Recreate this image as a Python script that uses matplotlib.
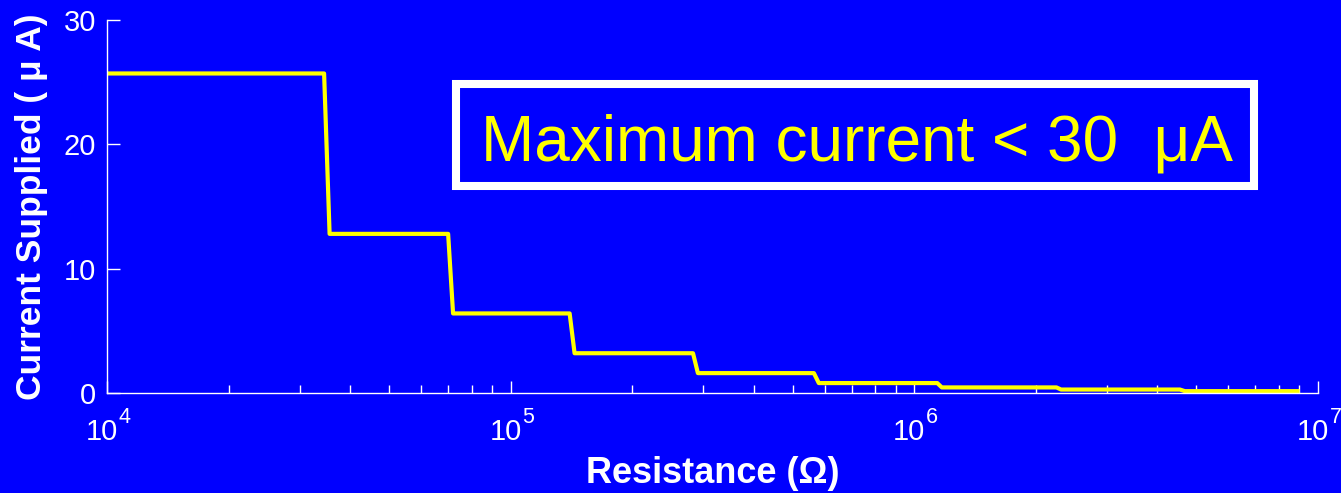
import numpy as np
import matplotlib.pyplot as plt
from matplotlib.patches import Rectangle
from matplotlib.ticker import FixedLocator, LogLocator, NullFormatter

plt.rcParams['font.family'] = ['Liberation Sans', 'DejaVu Sans']

# step curve: resistance (ohm) and current (uA)
resistance = [1.0e4, 34.5e3, 35.6e3, 70.0e3, 72.0e3, 140e3, 144e3, 283e3, 291e3,
              564e3, 580e3, 1.14e6, 1.17e6, 2.25e6, 2.31e6, 4.55e6, 4.68e6, 8.9e6]
current = [25.7, 25.7, 12.8, 12.8, 6.4, 6.4, 3.2, 3.2, 1.6,
           1.6, 0.8, 0.8, 0.45, 0.45, 0.28, 0.28, 0.15, 0.15]

y_ticks = [0, 10, 20, 30]
x_decades = [1e4, 1e5, 1e6, 1e7]
x_exponents = ['4', '5', '6', '7']

fig = plt.figure(figsize=(13.41, 4.93), dpi=100, facecolor='#0000ff')
ax = fig.add_axes([0.0798, 0.2028, 0.9030, 0.7566], facecolor='#0000ff')

ax.plot(resistance, current, color='#ffff00', lw=3)
ax.set_xscale('log')
ax.set_xlim(1e4, 1e7)
ax.set_ylim(0, 30)

for s in ['top', 'right']:
    ax.spines[s].set_visible(False)
for s in ['left', 'bottom']:
    ax.spines[s].set_color('white')
    ax.spines[s].set_linewidth(1)

ax.yaxis.set_major_locator(FixedLocator(y_ticks))
ax.xaxis.set_major_locator(FixedLocator(x_decades))
ax.xaxis.set_major_formatter(NullFormatter())
ax.xaxis.set_minor_locator(LogLocator(base=10, subs=np.arange(2, 10)))
ax.xaxis.set_minor_formatter(NullFormatter())
ax.tick_params(axis='both', which='major', direction='in', length=9, width=1,
               colors='white', labelsize=21)
ax.tick_params(axis='y', which='major', pad=8)
ax.tick_params(axis='x', which='minor', direction='in', length=5.5, width=1, colors='white')

# MATLAB-style 10^n labels: base and raised exponent
for d, e in zip(x_decades, x_exponents):
    ax.annotate('10', xy=(d, 0), xycoords=('data', 'axes fraction'),
                xytext=(8, -18), textcoords='offset points',
                ha='right', va='top', color='white', fontsize=21)
    ax.annotate(e, xy=(d, 0), xycoords=('data', 'axes fraction'),
                xytext=(8.5, -10), textcoords='offset points',
                ha='left', va='top', color='white', fontsize=15.5)

ax.set_xlabel('Resistance (\u03a9)', color='white', fontsize=26, fontweight='bold')
ax.xaxis.set_label_coords(0.5, -0.168)
ax.set_ylabel('Current Supplied ( \u03bc A)', color='white', fontsize=25.5, fontweight='bold', labelpad=11)

ax.add_patch(Rectangle((0.2882, 0.555), 0.659, 0.2735, transform=ax.transAxes,
                       fc='#0000ff', ec='white', lw=5.8, clip_on=False, zorder=3))
ax.text(0.6193, 0.6247, 'Maximum current < 30  \u03bcA', transform=ax.transAxes,
        ha='center', va='baseline', color='#ffff00', fontsize=46, zorder=4)

fig.savefig('out.png', dpi=100, facecolor=fig.get_facecolor())
